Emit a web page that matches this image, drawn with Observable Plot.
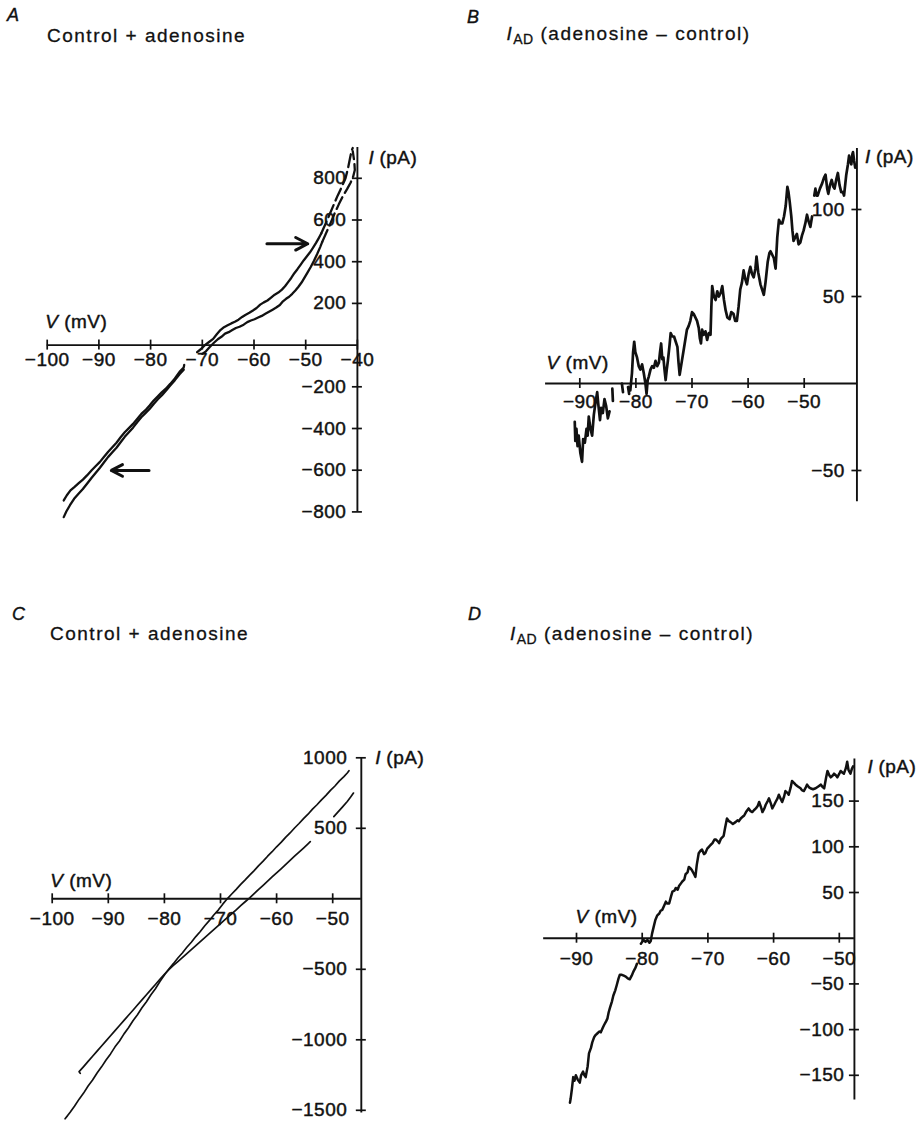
<!DOCTYPE html>
<html><head><meta charset="utf-8">
<script src="https://cdn.jsdelivr.net/npm/d3@7"></script>
<script src="https://cdn.jsdelivr.net/npm/@observablehq/plot@0.6"></script>
<style>
html,body{margin:0;padding:0;background:#fff;}
#page{position:relative;width:922px;height:1121px;overflow:hidden;font-family:"Liberation Sans",Arial,Helvetica,sans-serif;color:#111;}
.panel{position:absolute;}
.letter{position:absolute;font-style:italic;font-size:18px;line-height:1;-webkit-text-stroke:0.4px #111;}
.title{position:absolute;font-size:19px;line-height:1;letter-spacing:1.5px;white-space:nowrap;-webkit-text-stroke:0.3px #111;}
.title sub{font-size:14px;vertical-align:-4px;line-height:0;letter-spacing:0.5px;}
svg text{letter-spacing:0.5px;}
</style></head><body><div id="page"></div>
<script>
// ---------- DATA (V in mV, I in pA) ----------
// Panel A: control + adenosine (upper ramp portion, slow)
const aAdenUpper = [[-71.0,-34],[-70.3,-20],[-69.5,0],[-68.7,15],[-67.9,30],[-67.2,52],[-66.5,72],[-65.8,86],[-65.1,95],[-64.4,104],[-63.7,112],[-63.0,122],[-62.3,135],[-61.6,146],[-60.9,155],[-60.2,166],[-59.5,178],[-58.8,194],[-58.1,205],[-57.4,214],[-56.7,228],[-56.0,242],[-55.3,252],[-54.6,266],[-54.0,282],[-53.4,302],[-52.8,322],[-52.2,345],[-51.6,364],[-51.0,385],[-50.4,406],[-49.8,425],[-49.2,444],[-48.6,466],[-48.0,490],[-47.5,512],[-47.0,535]];
const aAdenFast = [[-47.0,535],[-46.2,580],[-45.4,625],[-44.6,672],[-43.8,718],[-43.0,760],[-42.3,800],[-41.8,850],[-41.4,900],[-41.1,935],[-40.9,945]];
const aCtrlUpper = [[-70.0,-42],[-69.3,-30],[-68.6,-10],[-67.8,10],[-67.0,28],[-66.3,40],[-65.6,55],[-64.9,62],[-64.2,72],[-63.5,82],[-62.8,88],[-62.0,98],[-61.3,110],[-60.6,118],[-59.9,124],[-59.2,132],[-58.5,140],[-57.8,150],[-57.1,160],[-56.4,170],[-55.7,180],[-55.0,192],[-54.4,210],[-53.8,222],[-53.2,232],[-52.6,246],[-52.0,262],[-51.4,280],[-50.8,300],[-50.2,325],[-49.6,350],[-49.0,376],[-48.4,405],[-47.8,436],[-47.2,470],[-46.8,495]];
const aCtrlFast = [[-46.8,495],[-46.0,540],[-45.2,585],[-44.4,632],[-43.6,675],[-42.8,715],[-42.0,748],[-41.3,780],[-40.8,810],[-40.5,840],[-40.6,880],[-40.9,930]];
// Panel A: lower ramp portion
const aCtrlLower = [[-73.5,-95],[-73.6,-108],[-74.4,-128],[-75.3,-160],[-76.2,-186],[-77.0,-208],[-77.8,-225],[-78.6,-246],[-79.4,-266],[-80.2,-290],[-81.0,-312],[-81.8,-330],[-82.6,-354],[-83.4,-378],[-84.2,-398],[-85.0,-418],[-85.8,-442],[-86.6,-468],[-87.4,-490],[-88.2,-512],[-89.0,-536],[-89.8,-560],[-90.6,-580],[-91.4,-600],[-92.3,-625],[-93.1,-645],[-93.9,-662],[-94.7,-680],[-95.5,-697],[-96.2,-720],[-96.8,-745]];
const aAdenLower = [[-73.6,-118],[-74.4,-140],[-75.3,-168],[-76.2,-194],[-77.0,-218],[-77.8,-240],[-78.6,-260],[-79.4,-282],[-80.2,-306],[-81.0,-326],[-81.8,-346],[-82.6,-370],[-83.4,-396],[-84.2,-418],[-85.0,-440],[-85.8,-466],[-86.6,-492],[-87.4,-514],[-88.2,-536],[-89.0,-562],[-89.8,-588],[-90.6,-612],[-91.4,-636],[-92.3,-665],[-93.1,-690],[-93.9,-712],[-94.8,-737],[-95.6,-768],[-96.3,-798],[-96.8,-825]];
const aArrows = [{x1:-57.5,x2:-49.6,y:486},{x1:-80.3,x2:-87.6,y:-601}];

// Panel B: I_AD trace
const bTrace = [[-90.9,-22],[-90.8,-33],[-90.6,-26],[-90.4,-36],[-90.2,-30],[-89.9,-40],[-89.6,-45],[-89.4,-32],[-89.1,-34],[-88.8,-26],[-88.6,-30],[-88.4,-19],[-88.1,-26],[-87.8,-30],[-87.5,-18],[-87.2,-11],[-86.9,-5],[-86.7,-12],[-86.4,-21],[-86.2,-14],[-85.9,-17],[-85.6,-9],[-85.3,-13],[-85.0,-20],[-84.7,-16],null,[-84.2,-3],[-84.1,-10],null,[-82.5,0],[-82.3,-5],null,[-81.4,-2],[-81.2,-6],null,[-81.0,-4],[-80.7,6],[-80.5,18],[-80.3,24],[-80.1,18],[-79.8,15],[-79.5,10],[-79.2,8],[-78.9,11],[-78.6,6],[-78.3,0],[-78.1,-6],[-77.9,2],[-77.7,4],[-77.4,8],[-77.1,10],[-76.8,9],[-76.5,13],[-76.2,10],[-75.9,12],[-75.7,18],[-75.5,23],[-75.3,14],[-75.1,15],[-74.9,8],[-74.7,2],[-74.5,8],[-74.3,13],[-74.0,22],[-73.8,29],[-73.5,27],[-73.2,27],[-72.9,24],[-72.6,21],[-72.4,12],[-72.2,5],[-72.0,9],[-71.8,13],[-71.5,19],[-71.2,25],[-70.9,31],[-70.6,33],[-70.3,36],[-70.0,41],[-69.7,40],[-69.4,38],[-69.1,36],[-68.8,32],[-68.6,26],[-68.4,23],[-68.2,31],[-67.9,28],[-67.6,30],[-67.3,25],[-67.0,29],[-66.7,28],[-66.55,44],[-66.4,56],[-66.1,50],[-65.8,48],[-65.5,53],[-65.2,50],[-64.9,52],[-64.6,56],[-64.3,48],[-64.0,42],[-63.7,38],[-63.3,37],[-63.0,41],[-62.6,40],[-62.3,36],[-62.0,36],[-61.7,44],[-61.4,54],[-61.1,58],[-60.8,65],[-60.5,60],[-60.2,57],[-59.9,63],[-59.6,67],[-59.3,63],[-59.0,61],[-58.7,66],[-58.5,73],[-58.2,64],[-57.8,57],[-57.5,54],[-57.2,51],[-56.9,58],[-56.5,70],[-56.2,75],[-56.0,76],[-55.7,74],[-55.4,72],[-55.1,66],[-54.8,84],[-54.5,94],[-54.2,92],[-53.9,92],[-53.6,96],[-53.3,102],[-53.0,113],[-52.8,110],[-52.6,105],[-52.3,96],[-52.1,88],[-51.9,82],[-51.6,84],[-51.3,86],[-51.0,80],[-50.7,81],[-50.4,85],[-50.1,88],[-49.8,92],[-49.5,97],[-49.2,93],[-48.9,90],[-48.6,96],null,[-48.2,108],[-48.0,112],[-47.8,108],[-47.6,108],[-47.2,112],[-46.8,115],[-46.5,118],[-46.2,120],[-45.9,112],[-45.7,109],[-45.4,114],[-45.1,117],[-44.8,113],[-44.6,112],[-44.3,117],[-44.0,121],[-43.7,114],[-43.4,110],[-43.1,110],[-42.9,108],[-42.7,114],[-42.5,120],[-42.2,126],[-42.0,131],[-41.8,128],[-41.6,126],[-41.4,132],[-41.3,133],[-41.1,128],[-40.9,124]];

// Panel C: control + adenosine
const cAden = [[-97.3,-1540],[-97.7,-1560],[-96.8,-1514],[-96.0,-1470],[-95.2,-1421],[-94.4,-1378],[-93.6,-1328],[-92.8,-1285],[-92.0,-1236],[-91.2,-1192],[-90.4,-1143],[-89.6,-1100],[-88.8,-1050],[-88.0,-1008],[-87.2,-958],[-86.4,-915],[-85.6,-865],[-84.8,-822],[-84.0,-773],[-83.2,-730],[-82.4,-680],[-81.6,-638],[-80.8,-587],[-80.0,-540],[-79.2,-498],[-78.4,-460],[-77.6,-420],[-76.8,-384],[-76.0,-344],[-75.2,-308],[-74.4,-268],[-73.6,-232],[-72.8,-191],[-72.0,-155],[-71.2,-115],[-70.4,-80],[-69.6,-38],[-68.8,0],[-68.0,34],[-67.2,67],[-66.4,102],[-65.6,134],[-64.8,168],[-64.0,200],[-63.2,235],[-62.4,267],[-61.6,302],[-60.8,334],[-60.0,369],[-59.2,400],[-58.4,436],[-57.6,467],[-56.8,502],[-56.0,534],[-55.2,569],[-54.4,600],[-53.6,636],[-52.8,667],[-52.0,702],[-51.2,734],[-50.4,769],[-49.6,800],[-48.8,836],[-48.0,866],[-47.4,892],[-47.1,908]];
const cCtrl = [[-95.0,-1238],[-95.2,-1226],[-94.4,-1190],[-93.6,-1153],[-92.8,-1117],[-92.0,-1080],[-91.2,-1044],[-90.4,-1008],[-89.6,-971],[-88.8,-935],[-88.0,-899],[-87.2,-862],[-86.4,-826],[-85.6,-790],[-84.8,-753],[-84.0,-717],[-83.2,-680],[-82.4,-644],[-81.6,-608],[-80.8,-571],[-80.0,-535],[-79.2,-502],[-78.4,-473],[-77.6,-445],[-76.8,-417],[-76.0,-388],[-75.2,-360],[-74.4,-332],[-73.6,-303],[-72.8,-275],[-72.0,-247],[-71.2,-219],[-70.4,-191],[-69.6,-162],[-68.8,-134],[-68.0,-106],[-67.2,-78],[-66.4,-49],[-65.6,-21],[-64.8,7],[-64.0,37],[-63.2,66],[-62.4,96],[-61.6,125],[-60.8,155],[-60.0,184],[-59.2,213],[-58.4,243],[-57.6,272],[-56.8,302],[-56.0,331],[-55.2,360],[-54.4,390],[-54.0,405],null,[-49.8,583],[-49.0,618],[-48.2,654],[-47.4,690],[-46.8,722],[-46.3,750]];

// Panel D: I_AD trace
const dTrace = [[-91.0,-180],[-90.9,-176],[-90.7,-165],[-90.5,-152],[-90.3,-156],[-90.1,-150],[-89.8,-155],[-89.5,-158],[-89.3,-150],[-89.0,-146],[-88.8,-150],[-88.6,-152],[-88.3,-140],[-88.1,-126],[-87.8,-120],[-87.6,-114],[-87.3,-108],[-87.1,-106],[-86.8,-104],[-86.5,-102],[-86.3,-103],[-86.0,-98],[-85.8,-95],[-85.5,-91],[-85.3,-88],[-85.1,-81],[-84.9,-76],[-84.6,-69],[-84.4,-63],[-84.1,-57],[-83.9,-52],[-83.6,-44],[-83.4,-40],[-83.1,-40],[-82.8,-41],[-82.5,-42],[-82.2,-44],[-81.9,-45],[-81.6,-41],[-81.3,-36],[-81.0,-32],[-80.8,-28],null,[-80.2,-6],[-80.0,-4],[-79.8,-2],[-79.5,-4],[-79.2,-2],[-78.9,-5],[-78.7,-3],[-78.5,5],[-78.2,14],[-78.0,20],[-77.7,25],[-77.4,27],[-77.2,30],[-76.95,31],[-76.7,35],[-76.4,40],[-76.2,38],[-75.9,38],[-75.6,46],[-75.4,51],[-75.1,52],[-74.9,55],[-74.6,53],[-74.4,57],[-74.1,60],[-73.9,62],[-73.6,64],[-73.4,70],[-73.1,72],[-72.9,78],[-72.6,76],[-72.4,74],[-72.1,70],[-71.9,67],[-71.7,80],[-71.4,93],[-71.1,96],[-70.9,97],[-70.6,92],[-70.4,93],[-70.1,98],[-69.85,100],[-69.6,102],[-69.3,104],[-69.0,108],[-68.8,108],[-68.5,106],[-68.3,104],[-68.0,109],[-67.6,112],[-67.4,120],[-67.1,131],[-66.8,128],[-66.55,127],[-66.2,125],[-65.8,127],[-65.5,129],[-65.3,128],[-65.0,131],[-64.7,133],[-64.5,134],[-64.2,138],[-63.8,142],[-63.5,139],[-63.25,138],[-63.0,140],[-62.7,142],[-62.4,145],[-62.2,149],[-61.9,143],[-61.7,138],[-61.4,142],[-61.2,146],[-60.9,150],[-60.7,153],[-60.4,147],[-60.2,142],[-59.9,146],[-59.7,149],[-59.4,153],[-59.2,157],[-58.9,152],[-58.7,149],[-58.4,155],[-58.2,161],[-57.9,159],[-57.7,157],[-57.4,165],[-57.2,172],[-56.9,170],[-56.65,168],[-56.3,166],[-55.9,164],[-55.7,162],[-55.4,161],[-55.1,165],[-54.9,168],[-54.6,165],[-54.4,164],[-54.0,163],[-53.6,164],[-53.2,166],[-52.8,168],[-52.6,166],[-52.3,164],[-52.0,176],[-51.8,183],[-51.5,178],[-51.3,176],[-51.0,178],[-50.8,180],[-50.5,178],[-50.3,176],[-50.0,180],[-49.8,183],[-49.5,181],[-49.3,180],[-49.0,186],[-48.8,193],[-48.6,184],[-48.3,180],[-48.1,185],[-47.9,188]];

// Tick values
const aXTicks = [-100,-90,-80,-70,-60,-50,-40];
const aYTicks = [-800,-600,-400,-200,200,400,600,800];
const bXTicks = [-90,-80,-70,-60,-50];
const bYTicks = [-50,50,100];
const cXTicks = [-100,-90,-80,-70,-60,-50];
const cYTicks = [-1500,-1000,-500,500,1000];
const dXTicks = [-90,-80,-70,-60,-50];
const dYTicks = [-150,-100,-50,50,100,150];

// ---------- RENDER ----------
const INK = "#111";
const FONT = '"Liberation Sans", Arial, Helvetica, sans-serif';
const fmt = v => String(v).replace("-", "\u2212");

function panel(p) {
  const kx = Math.abs((p.xRange[1]-p.xRange[0])/(p.xDomain[1]-p.xDomain[0]));
  const ky = Math.abs((p.yRange[1]-p.yRange[0])/(p.yDomain[1]-p.yDomain[0]));
  const tx = 5 / kx, ty = 5 / ky;
  const txt = {fill: INK, stroke: INK, strokeWidth: 0.45, fontSize: 19, fontFamily: FONT};
  const marks = [
    Plot.ruleY([0], {x1: p.xFrom, x2: p.yAt, stroke: INK, strokeWidth: 1.9}),
    Plot.ruleX([p.yAt], {y1: p.yFrom, y2: p.yTo, stroke: INK, strokeWidth: 1.9}),
    Plot.ruleX(p.xTicks, {x: d => d, y1: -ty, y2: ty, stroke: INK, strokeWidth: 1.7}),
    Plot.ruleY(p.yTicks, {y: d => d, x1: p.yAt - tx, x2: p.yAt + tx, stroke: INK, strokeWidth: 1.7}),
    Plot.text(p.xTicks, {x: d => d, y: 0, text: fmt, dy: p.xLabelDy, ...txt}),
    Plot.text(p.yTicks, {x: p.yAt, y: d => d, text: fmt, dx: p.yLabelDx, textAnchor: "end", ...txt}),
    Plot.text(["V"], {x: p.vLab.x, y: 0, text: d => d, dx: p.vLab.dx, dy: p.vLab.dy, textAnchor: "start", fontStyle: "italic", ...txt}),
    Plot.text(["(mV)"], {x: p.vLab.x, y: 0, text: d => d, dx: p.vLab.dx + 19, dy: p.vLab.dy, textAnchor: "start", ...txt}),
    Plot.text(["I"], {x: p.yAt, y: p.iLab.y, text: d => d, dx: p.iLab.dx, textAnchor: "start", fontStyle: "italic", ...txt}),
    Plot.text(["(pA)"], {x: p.yAt, y: p.iLab.y, text: d => d, dx: p.iLab.dx + 11, textAnchor: "start", ...txt}),
    ...p.marks
  ];
  return Plot.plot({
    width: p.w, height: p.h, margin: 0,
    x: {domain: p.xDomain, range: p.xRange, axis: null},
    y: {domain: p.yDomain, range: p.yRange, axis: null},
    style: {background: "transparent", fontFamily: FONT, color: INK, overflow: "visible"},
    marks
  });
}

const line = (data, opt = {}) => Plot.line(data, {x: d => d?.[0], y: d => d?.[1], stroke: INK, strokeLinejoin: "round", strokeLinecap: "round", ...opt});

const page = document.getElementById("page");
function place(svg, left, top) {
  const d = document.createElement("div");
  d.className = "panel"; d.style.left = left + "px"; d.style.top = top + "px";
  d.appendChild(svg); page.appendChild(d);
}

// A
place(panel({
  w: 461, h: 560,
  xDomain: [-100, -40], xRange: [46.7, 356.9],
  yDomain: [-800, 800], yRange: [511.4, 177.8],
  xFrom: -100, yAt: -40, yFrom: -800, yTo: 948,
  xTicks: aXTicks, yTicks: aYTicks, xLabelDy: 15, yLabelDx: -11,
  vLab: {x: -100, dx: -2, dy: -23}, iLab: {y: 900, dx: 11},
  marks: [
    line(aAdenUpper, {strokeWidth: 2.3}),
    line(aCtrlUpper, {strokeWidth: 2.3}),
    line(aAdenFast, {strokeWidth: 2.3, strokeDasharray: "13,5"}),
    line(aCtrlFast, {strokeWidth: 2.3, strokeDasharray: "13,5"}),
    line(aCtrlLower, {strokeWidth: 2.3}),
    line(aAdenLower, {strokeWidth: 2.3}),
    Plot.arrow(aArrows, {x1: "x1", x2: "x2", y1: "y", y2: "y", stroke: INK, strokeWidth: 3, headLength: 11, headAngle: 55})
  ]
}), 0, 0);

// B
place(panel({
  w: 461, h: 560,
  xDomain: [-90, -50], xRange: [118.3, 342.7],
  yDomain: [-50, 100], yRange: [470, 209],
  xFrom: -96.1, yAt: -40.6, yFrom: -68, yTo: 135,
  xTicks: bXTicks, yTicks: bYTicks, xLabelDy: 18.5, yLabelDx: -12,
  vLab: {x: -96.1, dx: 1, dy: -21}, iLab: {y: 130, dx: 8},
  marks: [line(bTrace, {strokeWidth: 2.7})]
}), 461, 0);

// C
place(panel({
  w: 461, h: 561,
  xDomain: [-100, -50], xRange: [51.7, 332.2],
  yDomain: [-1500, 1000], yRange: [549.8, 197.3],
  xFrom: -100, yAt: -44.9, yFrom: -1520, yTo: 1000,
  xTicks: cXTicks, yTicks: cYTicks, xLabelDy: 20, yLabelDx: -14,
  vLab: {x: -100, dx: -2, dy: -18}, iLab: {y: 1000, dx: 14},
  marks: [line(cAden, {strokeWidth: 1.7}), line(cCtrl, {strokeWidth: 1.7})]
}), 0, 560);

// D
place(panel({
  w: 461, h: 561,
  xDomain: [-90, -50], xRange: [115, 377.8],
  yDomain: [-150, 150], yRange: [514.8, 240.6],
  xFrom: -95, yAt: -47.7, yFrom: -177, yTo: 196,
  xTicks: dXTicks, yTicks: dYTicks, xLabelDy: 20.5, yLabelDx: -10,
  vLab: {x: -90, dx: -1, dy: -21}, iLab: {y: 187, dx: 13},
  marks: [line(dTrace, {strokeWidth: 2.5})]
}), 461, 560);

// Titles
const titles = [
  {cls: "letter", left: 7, top: 5.8, html: "A"},
  {cls: "title", left: 47, top: 25.6, html: "Control + adenosine"},
  {cls: "letter", left: 467, top: 8.3, html: "B"},
  {cls: "title", left: 506.5, top: 24.4, html: "<i>I</i><sub>AD</sub> (adenosine – control)"},
  {cls: "letter", left: 12, top: 604.8, html: "C"},
  {cls: "title", left: 50, top: 624, html: "Control + adenosine"},
  {cls: "letter", left: 468, top: 604.8, html: "D"},
  {cls: "title", left: 510, top: 624, html: "<i>I</i><sub>AD</sub> (adenosine – control)"}
];
for (const t of titles) {
  const d = document.createElement("div");
  d.className = t.cls; d.style.left = t.left + "px"; d.style.top = t.top + "px";
  d.innerHTML = t.html; page.appendChild(d);
}
</script>
</body></html>
